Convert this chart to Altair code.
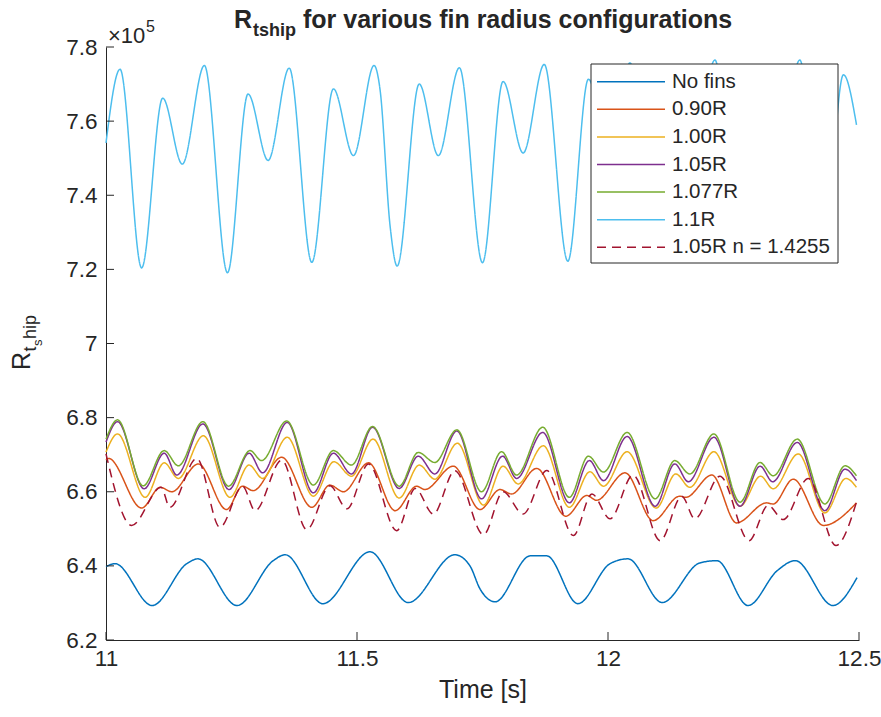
import altair as alt
import pandas as pd

FONT = "Liberation Sans"
INK = "#262626"

series_names = ["No fins", "0.90R", "1.00R", "1.05R", "1.077R", "1.1R", "1.05R n = 1.4255"]
series_colors = ["#0072BD", "#D95319", "#EDB120", "#7E2F8E", "#77AC30", "#4DBEEE", "#A2142F"]
series_dash = [[1, 0], [1, 0], [1, 0], [1, 0], [1, 0], [1, 0], [9, 6]]

x_ticks = [11, 11.5, 12, 12.5]
y_ticks = [6.2, 6.4, 6.6, 6.8, 7.0, 7.2, 7.4, 7.6, 7.8]

# values in units of 1e5
t_nofins = [11.000, 11.018, 11.092, 11.161, 11.183, 11.261, 11.333, 11.357, 11.432, 11.526,
            11.602, 11.695, 11.725, 11.745, 11.775, 11.845, 11.878, 11.940, 12.004, 12.040,
            12.108, 12.183, 12.217, 12.279, 12.337, 12.373, 12.448, 12.496]
v_nofins = [6.398, 6.406, 6.293, 6.406, 6.419, 6.293, 6.414, 6.430, 6.298, 6.438,
            6.301, 6.430, 6.400, 6.338, 6.303, 6.427, 6.427, 6.298, 6.406, 6.419,
            6.301, 6.408, 6.414, 6.293, 6.387, 6.414, 6.293, 6.368]

t_090 = [11.000, 11.005, 11.071, 11.108, 11.131, 11.184, 11.240, 11.272, 11.293, 11.350,
         11.410, 11.446, 11.473, 11.523, 11.576, 11.619, 11.635, 11.692, 11.745, 11.785,
         11.808, 11.858, 11.916, 11.958, 11.977, 12.034, 12.090, 12.143, 12.155, 12.207,
         12.256, 12.316, 12.329, 12.369, 12.429, 12.495]
v_090 = [6.686, 6.690, 6.556, 6.612, 6.600, 6.675, 6.552, 6.615, 6.603, 6.693,
         6.558, 6.618, 6.600, 6.678, 6.549, 6.615, 6.606, 6.669, 6.552, 6.606,
         6.594, 6.663, 6.534, 6.590, 6.577, 6.651, 6.522, 6.588, 6.585, 6.645,
         6.516, 6.570, 6.567, 6.634, 6.509, 6.570]

t_100 = [11.000, 11.023, 11.078, 11.116, 11.144, 11.194, 11.247, 11.285, 11.312, 11.361,
         11.413, 11.454, 11.489, 11.532, 11.584, 11.624, 11.655, 11.700, 11.752, 11.791,
         11.821, 11.871, 11.923, 11.964, 11.991, 12.038, 12.096, 12.135, 12.163, 12.211,
         12.263, 12.304, 12.329, 12.379, 12.432, 12.474, 12.495]
v_100 = [6.707, 6.756, 6.585, 6.678, 6.636, 6.751, 6.585, 6.672, 6.636, 6.747,
         6.588, 6.681, 6.642, 6.742, 6.583, 6.672, 6.634, 6.731, 6.564, 6.669,
         6.621, 6.724, 6.558, 6.654, 6.615, 6.708, 6.556, 6.648, 6.612, 6.708,
         6.561, 6.642, 6.608, 6.702, 6.543, 6.636, 6.612]

t_105 = [11.000, 11.023, 11.076, 11.116, 11.141, 11.193, 11.245, 11.285, 11.312, 11.361,
         11.413, 11.453, 11.489, 11.531, 11.584, 11.622, 11.655, 11.699, 11.748, 11.790,
         11.818, 11.870, 11.923, 11.963, 11.991, 12.038, 12.094, 12.133, 12.160, 12.211,
         12.263, 12.303, 12.328, 12.377, 12.432, 12.472, 12.495]
v_105 = [6.734, 6.789, 6.608, 6.704, 6.645, 6.783, 6.606, 6.704, 6.651, 6.787,
         6.597, 6.704, 6.648, 6.774, 6.609, 6.696, 6.648, 6.764, 6.581, 6.696,
         6.636, 6.760, 6.570, 6.684, 6.630, 6.749, 6.561, 6.675, 6.627, 6.747,
         6.561, 6.669, 6.627, 6.733, 6.549, 6.661, 6.630]

t_1077 = [11.000, 11.023, 11.074, 11.116, 11.144, 11.193, 11.244, 11.287, 11.310, 11.360,
          11.413, 11.453, 11.489, 11.531, 11.584, 11.622, 11.655, 11.699, 11.748, 11.788,
          11.818, 11.870, 11.923, 11.961, 11.991, 12.038, 12.094, 12.133, 12.163, 12.211,
          12.263, 12.303, 12.329, 12.377, 12.432, 12.472, 12.495]
v_1077 = [6.742, 6.794, 6.616, 6.711, 6.670, 6.789, 6.615, 6.711, 6.684, 6.791,
          6.618, 6.711, 6.672, 6.776, 6.615, 6.706, 6.679, 6.767, 6.600, 6.708,
          6.645, 6.774, 6.585, 6.696, 6.653, 6.760, 6.581, 6.684, 6.648, 6.756,
          6.572, 6.679, 6.643, 6.742, 6.567, 6.670, 6.643]

t_110 = [11.000, 11.028, 11.071, 11.113, 11.152, 11.196, 11.242, 11.283, 11.323, 11.365,
         11.410, 11.453, 11.493, 11.534, 11.546, 11.566, 11.580, 11.624, 11.662, 11.704,
         11.750, 11.791, 11.831, 11.873, 11.920, 11.961, 12.002, 12.044, 12.090, 12.129,
         12.171, 12.213, 12.259, 12.301, 12.343, 12.382, 12.428, 12.469, 12.495]
v_110 = [7.541, 7.740, 7.204, 7.662, 7.484, 7.750, 7.191, 7.673, 7.494, 7.743,
         7.219, 7.687, 7.507, 7.750, 7.684, 7.316, 7.209, 7.700, 7.507, 7.744,
         7.218, 7.707, 7.514, 7.753, 7.222, 7.713, 7.517, 7.757, 7.221, 7.719,
         7.523, 7.765, 7.221, 7.722, 7.523, 7.765, 7.221, 7.725, 7.590]

t_105n = [11.000, 11.051, 11.110, 11.127, 11.181, 11.227, 11.272, 11.297, 11.350, 11.400,
          11.446, 11.480, 11.523, 11.579, 11.616, 11.652, 11.695, 11.752, 11.791, 11.831,
          11.878, 11.931, 11.968, 12.004, 12.050, 12.104, 12.147, 12.173, 12.223, 12.281,
          12.319, 12.349, 12.399, 12.454, 12.495]
v_105n = [6.702, 6.509, 6.612, 6.558, 6.690, 6.504, 6.615, 6.549, 6.685, 6.498,
          6.616, 6.554, 6.675, 6.495, 6.609, 6.540, 6.657, 6.484, 6.600, 6.540,
          6.657, 6.482, 6.594, 6.527, 6.645, 6.468, 6.588, 6.527, 6.642, 6.468,
          6.563, 6.525, 6.636, 6.455, 6.572]

all_t = [t_nofins, t_090, t_100, t_105, t_1077, t_110, t_105n]
all_v = [v_nofins, v_090, v_100, v_105, v_1077, v_110, v_105n]

rows = []
for name, ts, vs in zip(series_names, all_t, all_v):
    for t, v in zip(ts, vs):
        rows.append({"series": name, "t": t, "v": v})
df = pd.DataFrame(rows)

W, H = 753, 593
LW = 1.5

xscale = alt.Scale(domain=[11, 12.5], nice=False, zero=False)
yscale = alt.Scale(domain=[6.2, 7.8], nice=False, zero=False)
cscale = alt.Scale(domain=series_names, range=series_colors)
dscale = alt.Scale(domain=series_names, range=series_dash)

x_axis = alt.Axis(
    values=x_ticks, format="~g", title="Time [s]", grid=False, ticks=False, tickSize=0,
    labelFlush=False, labelOverlap=False, labelPadding=7, labelFontSize=22.5,
    titleFontSize=25, titleFontWeight="normal", titlePadding=8,
    labelColor=INK, titleColor=INK, domainColor=INK, domainWidth=1,
    labelFont=FONT, titleFont=FONT)

lines = alt.Chart(df).mark_line(interpolate="monotone", strokeWidth=LW).encode(
    x=alt.X("t:Q", scale=xscale, axis=x_axis),
    y=alt.Y("v:Q", scale=yscale, axis=alt.Axis(
        values=y_ticks, format="~g", title=None, grid=False, ticks=False, tickSize=0,
        labelFlush=False, labelOverlap=False, labelPadding=9, labelFontSize=22.5,
        labelColor=INK, domainColor=INK, domainWidth=1, labelFont=FONT)),
    color=alt.Color("series:N", scale=cscale, legend=None, sort=series_names),
    strokeDash=alt.StrokeDash("series:N", scale=dscale, legend=None, sort=series_names),
)

xt_df = pd.DataFrame({"t": x_ticks})
xticks_layer = alt.Chart(xt_df).mark_rule(color=INK, strokeWidth=1).encode(
    x=alt.X("t:Q", scale=xscale, axis=x_axis), y=alt.value(H), y2=alt.value(H - 8))
yt_df = pd.DataFrame({"v": y_ticks})
yticks_layer = alt.Chart(yt_df).mark_rule(color=INK, strokeWidth=1).encode(
    y=alt.Y("v:Q", scale=yscale, axis=None), x=alt.value(0), x2=alt.value(8))

one = pd.DataFrame({"a": [0]})
leg_box = alt.Chart(one).mark_rect(fill="white", stroke=INK, strokeWidth=1).encode(
    x=alt.value(485), x2=alt.value(732), y=alt.value(17), y2=alt.value(216))
leg_df = pd.DataFrame({"series": series_names, "row": list(range(len(series_names)))})
rowscale = alt.Scale(domain=[0, 6], range=[34.7, 200.3])
leg_lines = alt.Chart(leg_df).mark_rule(strokeWidth=LW).encode(
    x=alt.value(491), x2=alt.value(559),
    y=alt.Y("row:Q", scale=rowscale, axis=None),
    color=alt.Color("series:N", scale=cscale, legend=None),
    strokeDash=alt.StrokeDash("series:N", scale=dscale, legend=None),
)
leg_text = alt.Chart(leg_df).mark_text(align="left", baseline="middle", fontSize=20.5, font=FONT, color=INK).encode(
    x=alt.value(566), y=alt.Y("row:Q", scale=rowscale, axis=None), text="series:N")

def txt(s, x, y, size, bold=False, angle=0):
    kw = dict(text=s, align="left", baseline="alphabetic", fontSize=size, font=FONT, color=INK,
              fontWeight="bold" if bold else "normal")
    if angle:
        kw["angle"] = angle
    return alt.Chart(one).mark_text(**kw).encode(x=alt.value(x), y=alt.value(y))

title_parts = [
    txt("R", 128, -19, 25, bold=True),
    txt("tship", 147, -11, 18, bold=True),
    txt("for various fin radius configurations", 197, -19, 25, bold=True),
]
exp_parts = [
    txt("\u00d710", 2, -4, 22),
    txt("5", 40, -15, 16),
]
ylab_parts = [
    txt("R", -76, 323, 25, angle=270),
    txt("t", -70, 304.5, 18, angle=270),
    txt("s", -64, 299, 13, angle=270),
    txt("hip", -70, 292, 18, angle=270),
]

chart = alt.layer(
    lines, xticks_layer, yticks_layer, leg_box, leg_lines, leg_text,
    *title_parts, *exp_parts, *ylab_parts
).resolve_scale(y="independent").properties(
    width=W, height=H,
    padding={"left": 106, "top": 47, "right": 22, "bottom": 77},
    autosize=alt.AutoSizeParams(type="none"),
    background="white",
).configure_view(stroke=None)

chart.save("out.html", embed_options={"renderer": "svg", "actions": False})
